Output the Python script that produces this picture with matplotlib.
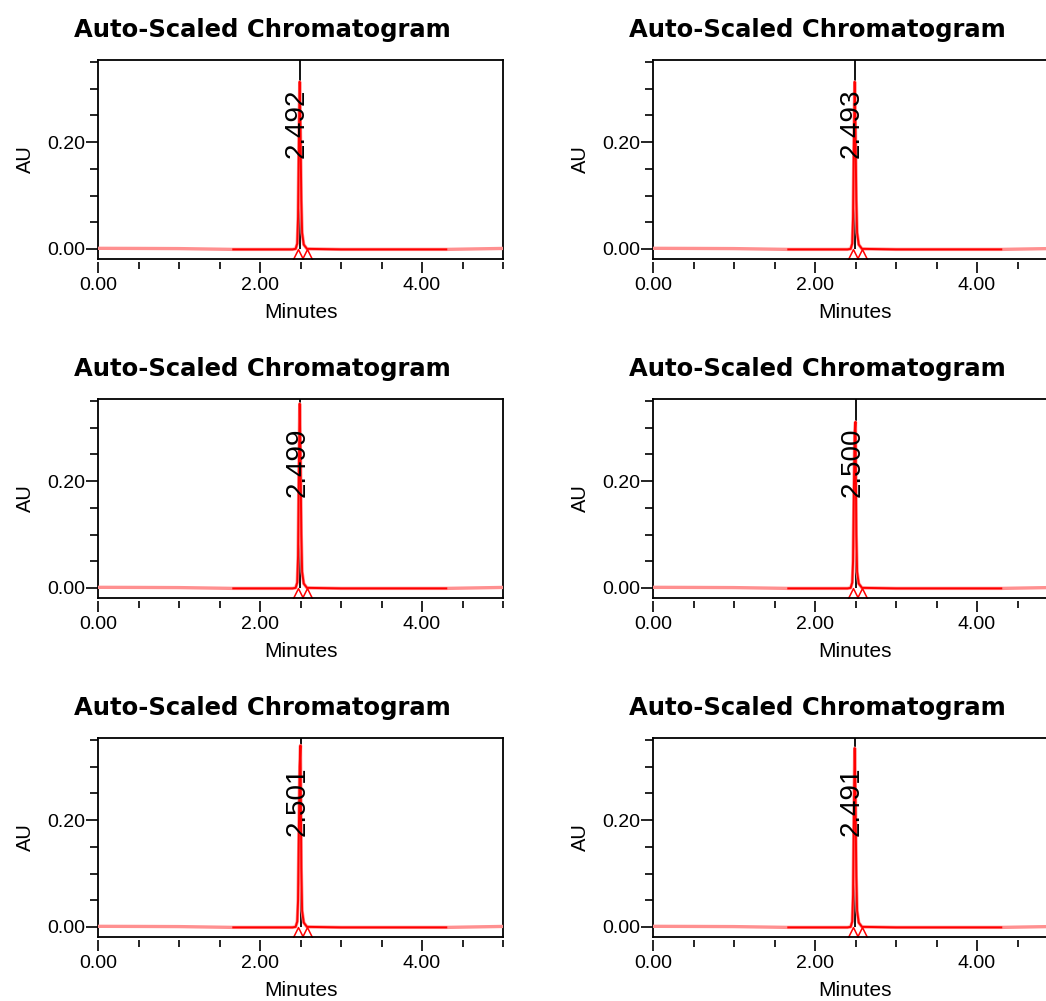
import matplotlib
matplotlib.use("Agg")
import matplotlib.pyplot as plt
from matplotlib.ticker import MultipleLocator, FormatStrFormatter
from matplotlib.path import Path

# ---------------- data ----------------
panel_titles = ["Auto-Scaled Chromatogram"] * 6
retention_times = [2.492, 2.493, 2.499, 2.500, 2.501, 2.491]
peak_labels = ["2.492", "2.493", "2.499", "2.500", "2.501", "2.491"]
peak_start = [2.465, 2.465, 2.465, 2.465, 2.465, 2.465]
peak_end = [2.575, 2.575, 2.575, 2.575, 2.575, 2.575]

time_min = [0.00, 0.05, 0.50, 1.00, 1.67, 2.00, 2.40, 2.44, 2.46, 2.47, 2.48,
            2.49, 2.50, 2.51, 2.52, 2.54, 2.58, 3.00, 3.50, 4.00, 4.30, 5.00]

au_1 = [0.001, 0.001, 0.0008, 0.0005, -0.001, -0.001, -0.001, 0.000, 0.010, 0.060, 0.200,
        0.313, 0.220, 0.090, 0.030, 0.008, 0.000, -0.001, -0.001, -0.001, -0.001, 0.0008]
au_2 = [0.001, 0.001, 0.0008, 0.0005, -0.001, -0.001, -0.001, 0.000, 0.010, 0.060, 0.200,
        0.313, 0.220, 0.090, 0.030, 0.008, 0.000, -0.001, -0.001, -0.001, -0.001, 0.0008]
au_3 = [0.001, 0.001, 0.0008, 0.0005, -0.001, -0.001, -0.001, 0.000, 0.010, 0.060, 0.220,
        0.345, 0.250, 0.100, 0.030, 0.008, 0.000, -0.001, -0.001, -0.001, -0.001, 0.0008]
au_4 = [0.001, 0.001, 0.0008, 0.0005, -0.001, -0.001, -0.001, 0.000, 0.010, 0.050, 0.180,
        0.290, 0.311, 0.100, 0.030, 0.008, 0.000, -0.001, -0.001, -0.001, -0.001, 0.0008]
au_5 = [0.001, 0.001, 0.0008, 0.0005, -0.001, -0.001, -0.001, 0.000, 0.010, 0.050, 0.180,
        0.300, 0.340, 0.110, 0.030, 0.008, 0.000, -0.001, -0.001, -0.001, -0.001, 0.0008]
au_6 = [0.001, 0.001, 0.0008, 0.0005, -0.001, -0.001, -0.001, 0.000, 0.010, 0.060, 0.210,
        0.335, 0.240, 0.095, 0.030, 0.008, 0.000, -0.001, -0.001, -0.001, -0.001, 0.0008]
au_series = [au_1, au_2, au_3, au_4, au_5, au_6]

integration_window = (1.67, 4.30)

# ---------------- style ----------------
W, H = 1046, 1001
fig = plt.figure(figsize=(W / 100, H / 100), dpi=100)

LBL_FONT = ["Liberation Sans", "DejaVu Sans"]
PINK = "#ff9090"
RED = "#ff0000"

chevron = Path([(-1, -1), (0, 1), (1, -1)], [Path.MOVETO, Path.LINETO, Path.LINETO])

col_x = [98, 653]
row_top = [60, 399, 738]
ax_w, ax_h = 405, 199

for i in range(6):
    r, c = divmod(i, 2)
    left = col_x[c] / W
    bottom = 1 - (row_top[r] + ax_h) / H
    ax = fig.add_axes([left, bottom, ax_w / W, ax_h / H])

    t = time_min
    y = au_series[i]
    rt = retention_times[i]

    ax.set_xlim(0, 5.0)
    ax.set_ylim(-0.019, 0.354)

    # retention time marker
    ax.vlines(rt, 0.0, 0.354, color="black", lw=1.3, zorder=2)
    # full trace (light) and integrated region (dark)
    ax.plot(t, y, color=PINK, lw=2.4, zorder=3, solid_joinstyle="round")
    seg = [k for k, tv in enumerate(t) if integration_window[0] <= tv <= integration_window[1]]
    ax.plot([t[k] for k in seg], [y[k] for k in seg], color=RED, lw=1.4, zorder=4)
    # peak start/end markers
    ax.plot([peak_start[i], peak_end[i]], [-0.011, -0.011], linestyle="none",
            marker=chevron, markersize=8.5, markerfacecolor="none",
            markeredgecolor=RED, markeredgewidth=1.1, zorder=5)
    # peak label
    ax.text(rt - 0.035, 0.236, peak_labels[i], rotation=90, ha="center", va="center",
            fontsize=20, family=["Liberation Sans Narrow", "Liberation Sans"],
            color="black", zorder=6)

    # axes styling
    for s in ["top", "right", "left"]:
        ax.spines[s].set_linewidth(1.3)
    ax.spines["bottom"].set_position(("outward", 1.8))
    ax.spines["bottom"].set_visible(False)
    ax.plot([0, 1], [0, 0], transform=ax.transAxes, color="black", lw=1.3,
            clip_on=False, zorder=10)

    ax.xaxis.set_major_locator(MultipleLocator(2.0))
    ax.xaxis.set_minor_locator(MultipleLocator(0.5))
    ax.yaxis.set_major_locator(MultipleLocator(0.2))
    ax.yaxis.set_minor_locator(MultipleLocator(0.05))
    ax.xaxis.set_major_formatter(FormatStrFormatter("%.2f"))
    ax.yaxis.set_major_formatter(FormatStrFormatter("%.2f"))
    ax.tick_params(axis="x", which="major", direction="out", length=8, width=1.2,
                   pad=3, labelsize=14)
    ax.tick_params(axis="x", which="minor", direction="out", length=5, width=1.2)
    ax.tick_params(axis="y", which="major", direction="out", length=8.5, width=1.2,
                   pad=0.5, labelsize=14)
    ax.tick_params(axis="y", which="minor", direction="out", length=5.5, width=1.2)
    for lab in ax.get_xticklabels() + ax.get_yticklabels():
        lab.set_family(LBL_FONT)

    ax.set_xlabel("Minutes", fontsize=15, family=LBL_FONT)
    ax.xaxis.set_label_coords(0.5, -0.271)
    ax.xaxis.label.set_va("center")
    ax.set_ylabel("AU", fontsize=14.5, family=LBL_FONT)
    ax.yaxis.set_label_coords(-0.180, 0.5)
    ax.yaxis.label.set_va("center")

    ax.text(0.407, 1.1156, panel_titles[i], transform=ax.transAxes, ha="center",
            va="baseline", fontsize=17.5, fontweight="bold", family="DejaVu Sans",
            color="black")

fig.savefig("out.png", dpi=100)
